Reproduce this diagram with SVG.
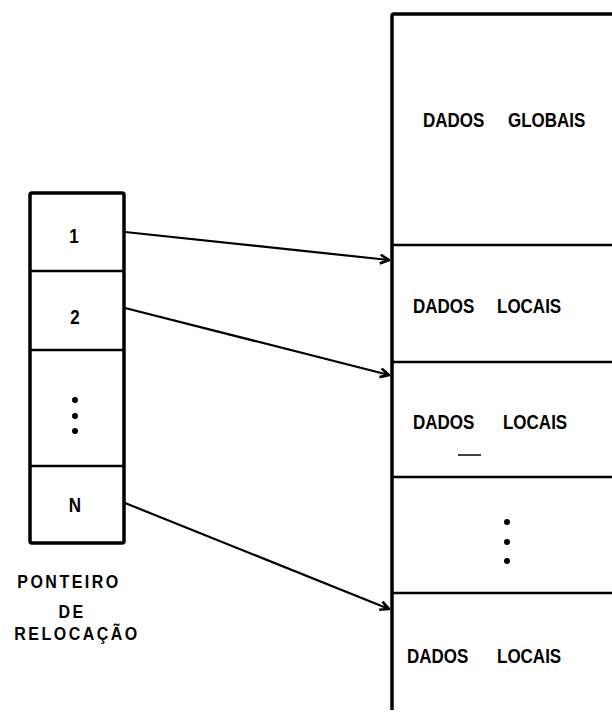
<svg xmlns="http://www.w3.org/2000/svg" width="612" height="713" viewBox="0 0 612 713">
<defs>
<style>
text{font-family:"Liberation Sans",Arial,sans-serif;font-weight:bold;font-size:17px;fill:#000}
.lbl{font-size:16px;letter-spacing:2.5px}
.thick{fill:none;stroke:#000;stroke-width:3.5}
.div{fill:none;stroke:#000;stroke-width:2.5}
.conn{fill:none;stroke:#000;stroke-width:2.2}
</style>
<marker id="ah" viewBox="0 0 10 10" refX="9" refY="5" markerWidth="11" markerHeight="11" markerUnits="userSpaceOnUse" orient="auto">
<path d="M1,1 L9,5 L1,9" fill="none" stroke="#000" stroke-width="2.4"/>
</marker>
</defs>
<rect width="612" height="713" fill="#fff"/>
<g id="pointer-table">
<rect class="thick" x="30" y="193" width="94" height="350" rx="2"/>
<line class="div" x1="30" y1="271" x2="124" y2="271"/>
<line class="div" x1="30" y1="350" x2="124" y2="350"/>
<line class="div" x1="30" y1="466" x2="124" y2="466"/>
<text transform="translate(74,243) scale(1,1.2)" text-anchor="middle">1</text>
<text transform="translate(75,324) scale(1,1.2)" text-anchor="middle">2</text>
<circle cx="75" cy="400" r="3"/>
<circle cx="75" cy="416" r="3"/>
<circle cx="75" cy="431" r="3"/>
<text transform="translate(75,512) scale(1,1.2)" text-anchor="middle">N</text>
</g>
<g id="pointer-label">
<text class="lbl" transform="translate(69,588) scale(1,1.12)" text-anchor="middle">PONTEIRO</text>
<text class="lbl" transform="translate(72,618) scale(1,1.12)" text-anchor="middle">DE</text>
<text class="lbl" transform="translate(77,640) scale(1,1.12)" text-anchor="middle">RELOCAÇÃO</text>
</g>
<g id="memory">
<path class="thick" d="M392,710 V16 Q392,14 394,14 H612"/>
<line class="div" x1="392" y1="245" x2="612" y2="245"/>
<line class="div" x1="392" y1="362" x2="612" y2="362"/>
<line class="div" x1="392" y1="477" x2="612" y2="477"/>
<line class="div" x1="392" y1="593" x2="612" y2="593"/>
</g>
<g id="global-data">
<text transform="translate(0,127) scale(1,1.2)"><tspan x="423">DADOS</tspan><tspan x="508">GLOBAIS</tspan></text>
</g>
<g id="local-data-1">
<text transform="translate(0,313) scale(1,1.2)"><tspan x="413">DADOS</tspan><tspan x="497">LOCAIS</tspan></text>
</g>
<g id="local-data-2">
<text transform="translate(0,429) scale(1,1.2)"><tspan x="413">DADOS</tspan><tspan x="503">LOCAIS</tspan></text>
<line x1="458" y1="455" x2="481" y2="455" stroke="#000" stroke-width="1.5"/>
</g>
<g id="local-gap">
<circle cx="507" cy="522" r="3"/>
<circle cx="507" cy="542" r="3"/>
<circle cx="507" cy="561" r="3"/>
</g>
<g id="local-data-n">
<text transform="translate(0,663) scale(1,1.2)"><tspan x="407">DADOS</tspan><tspan x="497">LOCAIS</tspan></text>
</g>
<g id="connectors">
<line class="conn" x1="125" y1="232" x2="389" y2="260" marker-end="url(#ah)"/>
<line class="conn" x1="125" y1="308" x2="389" y2="375" marker-end="url(#ah)"/>
<line class="conn" x1="125" y1="503" x2="389" y2="609" marker-end="url(#ah)"/>
</g>
</svg>
